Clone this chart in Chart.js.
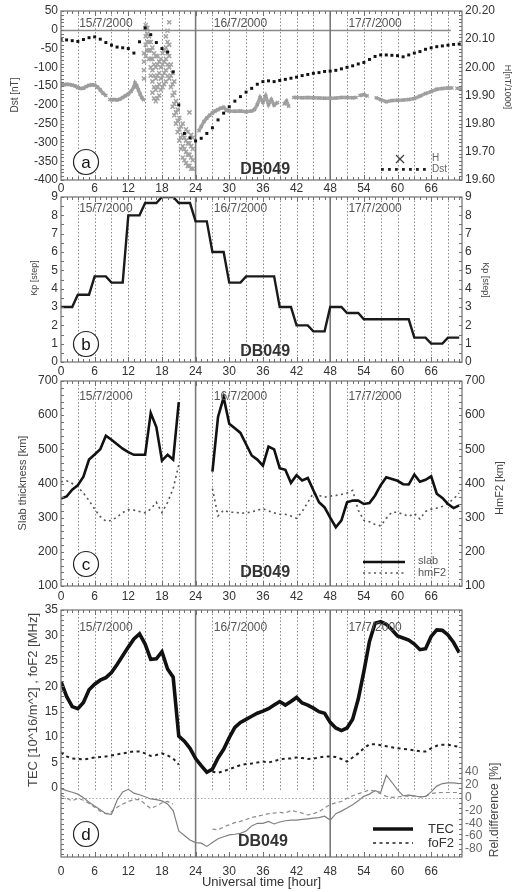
<!DOCTYPE html>
<html>
<head>
<meta charset="utf-8">
<script src="https://cdn.jsdelivr.net/npm/chart.js@4.4.1/dist/chart.umd.min.js"></script>
<style>
  body { margin: 0; background: #fff; width: 512px; height: 892px; position: relative; overflow: hidden; }
  canvas { position: absolute; left: 0; }
</style>
</head>
<body>
<canvas id="cA" width="512" height="194" style="top:0px;width:512px;height:194px"></canvas>
<canvas id="cB" width="512" height="192" style="top:184px;width:512px;height:192px"></canvas>
<canvas id="cC" width="512" height="232" style="top:369px;width:512px;height:232px"></canvas>
<canvas id="cD" width="512" height="296" style="top:596px;width:512px;height:296px"></canvas>
<script>
// hours of the three days, 15-17 July 2000
const hours = [0,1,2,3,4,5,6,7,8,9,10,11,12,13,14,15,16,17,18,19,20,21,22,23,
  24,25,26,27,28,29,30,31,32,33,34,35,36,37,38,39,40,41,42,43,44,45,46,47,
  48,49,50,51,52,53,54,55,56,57,58,59,60,61,62,63,64,65,66,67,68,69,70,71];
const hourTicks = [0,6,12,18,24,30,36,42,48,54,60,66];
const dayStarts = [24, 48];
const dayLabels = ['15/7/2000', '16/7/2000', '17/7/2000'];
const dayLabelHours = [8, 32, 56];
const X_MAX = 71.5;

// (a) Dst [nT], hourly
const dst = [-26,-27,-29,-31,-26,-21,-19,-25,-34,-41,-46,-48,-50,-62,-32,5,-13,-34,-50,-59,-112,-200,-276,-288,
  -296,-289,-276,-261,-240,-222,-205,-190,-178,-166,-156,-145,-138,-136,-138,-135,-132,-129,-126,-122,-119,-116,-114,-111,
  -110,-108,-104,-100,-96,-91,-87,-79,-71,-67,-67,-68,-69,-72,-67,-62,-58,-52,-48,-45,-43,-41,-39,-38];

// (a) H [nT/1000], quiet parts (null = gap in record)
const hBandTimes = [0,0.5,1,1.5,2,2.5,3,3.5,4,4.5,5,5.5,6,6.5,7,7.5,8,8.4,
  8.7,9,9.5,10,10.5,11,11.5,12,12.5,13,13.2,13.5,13.8,14.1,14.4,14.7,14.8,
  24.6,25,25.5,26,26.5,27,27.5,28,28.5,29,29.5,30,31,32,33,34,34.5,35,35.5,36,36.5,37,37.5,38,38.6,39,
  39.8,40.2,40.6,41,
  41.5,42,43,44,45,46,47,48,49,50,51,52,52.6,52.9,
  53.3,54,54.6,55.2,
  56.2,57,58,59,60,61,62,63,64,65,66,67,68,69,69.7,70.1,
  70.6,71.5];
const hBandValues = [19.937,19.938,19.940,19.939,19.937,19.934,19.928,19.925,19.926,19.932,19.936,19.938,19.937,19.930,19.920,19.908,19.900,null,
  19.886,19.885,19.886,19.884,19.887,19.893,19.899,19.905,19.915,19.930,19.944,19.935,19.920,19.905,19.893,19.885,null,
  19.775,19.790,19.808,19.820,19.830,19.838,19.845,19.850,19.855,19.858,19.848,19.845,19.844,19.845,19.842,19.845,19.850,19.868,19.893,19.876,19.898,19.868,19.885,19.866,19.875,null,
  19.870,19.880,19.862,null,
  19.893,19.893,19.892,19.893,19.892,19.891,19.890,19.890,19.891,19.893,19.893,19.892,19.893,null,
  19.900,19.903,19.898,null,
  19.892,19.885,19.878,19.882,19.883,19.884,19.886,19.889,19.898,19.907,19.914,19.922,19.925,19.927,19.927,null,
  19.926,19.922];

// (a) H during the storm: scattered samples
const stormTimes = [14.8,15.1,15.4,15.7,16.0,16.3,16.6,16.9,17.2,17.5,17.8,18.1,18.4,18.7,19.0,19.3,19.6,19.9,
  20.2,20.5,20.8,21.1,21.4,21.7,22.0,22.3,22.6,22.9,23.2,23.5];
const stormValues = [
  [19.96,19.99,20.02,20.05],[20.08,20.11,20.14,20.15,20.04],[20.09,20.12,20.14,20.06],[20.03,20.06,20.09,20.11],
  [20.00,20.03,20.06,20.09,19.97],[19.95,19.99,20.03,20.07,19.91],[19.89,19.93,19.97,20.01,20.05],[19.88,19.92,19.96,20.00,20.04],
  [19.89,19.93,19.97,20.01,20.04],[19.90,19.94,19.98,20.02],[19.92,19.96,20.00,20.03],[19.93,19.97,20.01,20.05],
  [19.94,19.98,20.02,20.06],[19.95,19.99,20.03,20.07,20.11],[19.97,20.01,20.05,20.09,20.13],[19.96,20.00,20.04,20.08,20.16],
  [19.93,19.97,20.01],[19.86,19.90,19.94,19.98],[19.83,19.87,19.91,19.95],[19.80,19.84,19.88],
  [19.77,19.81,19.85],[19.74,19.78,19.82],[19.71,19.75,19.79],[19.68,19.72,19.76,19.80],
  [19.67,19.71,19.75],[19.66,19.70,19.74,19.78],[19.65,19.69,19.73,19.77],[19.65,19.69,19.73,19.84],
  [19.64,19.68,19.72,19.76],[19.64,19.67,19.71,19.75]];

// (b) Kp, one value per 3-hour interval
const kp3h = [3,3.67,4.67,4.33,8,8.67,9,8.67, 7.67,6,4.33,4.67,4.67,3,2,1.67, 3,2.67,2.33,2.33,2.33,1.33,1,1.33];

// (c) slab thickness and hmF2 [km]
const slab = [356,362,382,395,420,470,485,500,540,528,515,502,492,484,484,484,606,565,467,484,470,638,null,null,
  null,null,null,435,595,652,575,562,548,515,482,470,452,508,500,445,440,402,424,409,416,380,345,330,
  300,272,292,345,350,350,340,343,365,395,418,413,408,398,397,426,405,411,421,370,358,340,328,336];
const hmF2 = [405,408,400,390,372,350,325,303,290,292,302,315,323,322,318,314,325,345,315,345,385,455,null,null,
  null,null,null,385,305,322,316,316,313,314,317,322,326,320,314,310,310,305,298,318,345,372,365,360,
  363,365,368,372,380,322,292,288,280,276,298,316,316,310,304,312,296,318,325,328,333,342,355,372];

// (d) TEC [10^16/m^2], foF2 [MHz], relative differences [%]
const tec = [20.9,18.0,16.0,15.6,16.8,19.3,20.4,21.2,21.7,22.7,24.3,26.0,27.7,29.3,30.3,28.3,25.3,25.4,26.8,23.4,21.8,10.2,9.2,7.8,
  5.8,4.4,3.1,3.7,5.9,7.6,9.9,11.9,12.9,13.5,14.1,14.7,15.1,15.6,16.3,17.0,16.3,17.0,17.8,16.7,16.3,15.7,15.0,14.7,
  12.9,11.8,11.3,11.8,13.5,17.5,22.9,28.8,32.4,32.7,32.2,31.1,29.9,29.5,29.1,28.3,27.2,27.4,29.8,31.1,31.0,30.1,28.6,26.6];
const foF2 = [7.0,6.2,5.8,5.7,5.6,5.8,6.0,6.1,6.2,6.4,6.6,6.8,7.0,7.2,7.2,6.8,6.3,6.5,6.8,6.4,5.8,4.6,null,null,
  null,null,null,3.2,3.0,3.3,3.7,4.1,4.5,4.7,4.8,5.0,5.2,5.0,5.3,5.6,5.8,5.8,6.0,5.9,5.7,5.8,6.0,6.2,
  6.2,6.1,5.7,5.2,6.0,6.8,7.8,8.6,8.6,8.4,8.2,8.0,7.8,7.7,7.6,7.4,7.2,7.2,7.8,8.3,8.5,8.5,8.3,8.1];
const tecRel = [14,11,8.5,5.5,0,-7,-13,-19,-25,-26,-4,9,13,7,4.5,1.5,-2,-3,-5,-10,-20,-52,-59,-66,
  -70,-71,-76,-70,-64,-61,-58,-57,-55.6,-52,-44,-40,-40,-37,-41,-38,-36,-35,-35,-34,-33,-32,-31,-29,
  -35,-25,-21,-16,-11,-5,2,5.5,11,8,35,24,12,3,4,3,1,2,9,18,22,23,23,22];
const foF2Rel = [4,-1,-5,-1,-4,-9,-15,-21,-25,-22,-15,-10,-6,-3,-3,-10,-17,-13,-8,-6,-10,null,null,null,
  null,null,null,-49,-50,-46,-42,-39,-37,-34,-31,-29,-27,-25,-24,-23,-24,-20,-22,-24,-27,-25,-22,-16,
  -11,-8,-6,-1,3,6,9,12,10,6,2,0.5,1,2.5,2.5,2.5,1.5,2,6.5,7.5,8,8,8,8];

// axis tick labels
const dstTicks = [-400,-350,-300,-250,-200,-150,-100,-50,0,50];
const hTicks = [19.60,19.65,19.70,19.75,19.80,19.85,19.90,19.95,20.00,20.05,20.10,20.15,20.20];
const kpTicks = [0,1,2,3,4,5,6,7,8,9];
const kmTicks = [100,200,300,400,500,600,700];
const tecTicks = [0,5,10,15,20,25,30,35];
const relTicks = [-80,-60,-40,-20,0,20,40];

const FONT = '"Liberation Sans", Arial, Helvetica, sans-serif';
Chart.defaults.font.family = FONT;
Chart.defaults.color = '#333';
Chart.defaults.animation = false;
Chart.defaults.responsive = false;
Chart.defaults.plugins.legend.display = false;
Chart.defaults.plugins.tooltip.enabled = false;
Chart.defaults.elements.line.tension = 0;
Chart.defaults.elements.point.radius = 0;

const pts = (xs, ys) => xs.map((x, i) => ({x: x, y: ys[i]}));

const kpPoints = [];
kp3h.forEach((v, i) => { for (let k = 0; k < 3; k++) kpPoints.push({x: 3 * i + k, y: v}); });
const stormPoints = [];
stormTimes.forEach((t, i) => stormValues[i].forEach(v => stormPoints.push({x: t, y: v})));

function xAxis(h, pad, title) {
  return {
    type: 'linear', min: 0, max: X_MAX,
    afterBuildTicks: s => { s.ticks = hourTicks.map(v => ({value: v})); },
    afterFit: s => { s.height = h; },
    grid: {display: false, drawTicks: false},
    border: {display: false},
    ticks: {padding: pad, font: {size: 12}, color: '#333', maxRotation: 0, autoSkip: false},
    title: title ? {display: true, text: title, font: {size: 13}, color: '#333', padding: {top: 0, bottom: 2}} : {display: false}
  };
}

function yAxis(pos, min, max, ticks, fmt, color) {
  return {
    type: 'linear', position: pos, min: min, max: max,
    afterBuildTicks: s => { s.ticks = ticks.map(v => ({value: v})); },
    afterFit: s => { s.width = pos === 'left' ? 61 : 50; },
    grid: {display: false, drawTicks: false},
    border: {display: false},
    ticks: {padding: 3, font: {size: 12}, color: color || '#333', callback: fmt || (v => String(v))}
  };
}

function seg(ctx, x1, y1, x2, y2) {
  ctx.beginPath(); ctx.moveTo(x1, y1); ctx.lineTo(x2, y2); ctx.stroke();
}

function vText(ctx, text, x, y, rot, size, color) {
  ctx.save();
  ctx.translate(x, y);
  ctx.rotate(rot * Math.PI / 180);
  ctx.font = size + 'px ' + FONT;
  ctx.fillStyle = color;
  ctx.textAlign = 'center';
  ctx.textBaseline = 'middle';
  ctx.fillText(text, 0, 0);
  ctx.restore();
}

function drawLegend(ctx, a, kind) {
  ctx.save();
  ctx.textAlign = 'left';
  ctx.textBaseline = 'middle';
  if (kind === 'a') {
    const cx = a.right - 62, cy = a.bottom - 21;
    ctx.strokeStyle = '#444'; ctx.lineWidth = 1.2;
    seg(ctx, cx - 4, cy - 4, cx + 4, cy + 4);
    seg(ctx, cx - 4, cy + 4, cx + 4, cy - 4);
    ctx.fillStyle = '#222';
    for (let i = 0; i < 7; i++) ctx.fillRect(a.right - 81 + i * 7, a.bottom - 12, 2.8, 2.8);
    ctx.font = '10px ' + FONT; ctx.fillStyle = '#666';
    ctx.fillText('H', a.right - 30, a.bottom - 22);
    ctx.fillText('Dst', a.right - 30, a.bottom - 11);
  } else if (kind === 'c') {
    ctx.strokeStyle = '#111'; ctx.lineWidth = 2.6;
    seg(ctx, a.right - 99, a.bottom - 24, a.right - 57, a.bottom - 24);
    ctx.strokeStyle = '#555'; ctx.lineWidth = 1.6; ctx.setLineDash([2, 3.5]);
    seg(ctx, a.right - 99, a.bottom - 13, a.right - 57, a.bottom - 13);
    ctx.setLineDash([]);
    ctx.font = '11px ' + FONT; ctx.fillStyle = '#555';
    ctx.fillText('slab', a.right - 44, a.bottom - 25);
    ctx.fillText('hmF2', a.right - 44, a.bottom - 13);
  } else if (kind === 'd') {
    ctx.strokeStyle = '#111'; ctx.lineWidth = 3.6;
    seg(ctx, a.right - 89, a.bottom - 28, a.right - 49, a.bottom - 28);
    ctx.strokeStyle = '#222'; ctx.lineWidth = 1.6; ctx.setLineDash([3, 3.5]);
    seg(ctx, a.right - 89, a.bottom - 14, a.right - 49, a.bottom - 14);
    ctx.setLineDash([]);
    ctx.font = '13px ' + FONT; ctx.fillStyle = '#333';
    ctx.fillText('TEC', a.right - 34, a.bottom - 28);
    ctx.fillText('foF2', a.right - 34, a.bottom - 14);
  }
  ctx.restore();
}

// grid, frame and the labels printed inside each panel
const decor = {
  id: 'decor',
  beforeDatasetsDraw(chart, args, o) {
    const {ctx, chartArea: a, scales} = chart;
    const x = scales.x;
    ctx.save();
    const yEnd = o.gridEnd == null ? a.bottom : scales.y.getPixelForValue(o.gridEnd);
    ctx.strokeStyle = '#8c8c8c'; ctx.lineWidth = 1; ctx.setLineDash([1.5, 2]);
    for (let h = 3; h < X_MAX; h += 3) {
      if (dayStarts.includes(h)) continue;
      const px = Math.round(x.getPixelForValue(h)) + 0.5;
      seg(ctx, px, a.top, px, yEnd);
    }
    if (o.zero) {
      const z = o.zero;
      const py = Math.round(scales[z.axis].getPixelForValue(z.value)) + 0.5;
      ctx.strokeStyle = z.color; ctx.lineWidth = z.width; ctx.setLineDash(z.dash);
      seg(ctx, a.left, py, z.to == null ? a.right : x.getPixelForValue(z.to), py);
    }
    ctx.setLineDash([]);
    ctx.strokeStyle = '#7a7a7a'; ctx.lineWidth = 1.6;
    dayStarts.forEach(h => {
      const px = x.getPixelForValue(h);
      seg(ctx, px, a.top, px, a.bottom);
    });
    ctx.restore();
  },
  afterDatasetsDraw(chart, args, o) {
    const {ctx, chartArea: a, scales} = chart;
    const x = scales.x, y = scales.y;
    ctx.save();
    // frame with inward minor ticks
    ctx.strokeStyle = '#707070'; ctx.lineWidth = 1.2;
    ctx.strokeRect(a.left, a.top, a.right - a.left, a.bottom - a.top);
    ctx.lineWidth = 1;
    for (let h = 1; h < X_MAX; h++) {
      const px = Math.round(x.getPixelForValue(h)) + 0.5;
      const len = h % 6 === 0 ? 5 : 3;
      seg(ctx, px, a.top, px, a.top + len);
      seg(ctx, px, a.bottom, px, a.bottom - len);
    }
    for (let v = Math.ceil(y.min / o.yMinor) * o.yMinor; v <= y.max; v += o.yMinor) {
      const py = Math.round(y.getPixelForValue(v)) + 0.5;
      seg(ctx, a.left, py, a.left + 3, py);
      seg(ctx, a.right, py, a.right - 3, py);
    }
    // day labels
    ctx.font = '12px ' + FONT; ctx.fillStyle = '#555';
    ctx.textAlign = 'center'; ctx.textBaseline = 'middle';
    dayLabels.forEach((t, i) => ctx.fillText(t, x.getPixelForValue(dayLabelHours[i]), a.top + o.dateY));
    // station name
    ctx.font = 'bold 16px ' + FONT; ctx.fillStyle = '#333';
    ctx.fillText('DB049', x.getPixelForValue(o.dbX), a.bottom - o.dbY);
    // circled panel letter
    const cx = x.getPixelForValue(4.46), cy = a.bottom - o.letterY;
    ctx.beginPath(); ctx.arc(cx, cy, 12.5, 0, Math.PI * 2);
    ctx.fillStyle = '#fff'; ctx.fill();
    ctx.strokeStyle = '#222'; ctx.lineWidth = 1.2; ctx.stroke();
    ctx.font = '17px ' + FONT; ctx.fillStyle = '#111';
    ctx.fillText(o.letter, cx, cy + 1);
    ctx.restore();
    if (o.legend) drawLegend(ctx, a, o.legend);
    o.titles.forEach(t => vText(ctx, t.t, t.x, t.y, t.rot, t.size, '#444'));
  }
};

// (a) Dst and H
new Chart(document.getElementById('cA'), {
  type: 'line',
  data: {datasets: [
    {label: 'Dst', data: pts(hours, dst), yAxisID: 'y', showLine: false, pointRadius: 2.1,
      pointStyle: 'rect', pointBackgroundColor: '#111', pointBorderWidth: 0},
    {label: 'H', data: pts(hBandTimes, hBandValues), yAxisID: 'y2', borderColor: '#a5a5a5', borderWidth: 3.5,
      pointStyle: 'crossRot', pointRadius: 2.2, pointBorderColor: '#9c9c9c', pointBorderWidth: 1.3, spanGaps: false},
    {label: 'H storm', data: stormPoints, yAxisID: 'y2', showLine: false, pointStyle: 'crossRot',
      pointRadius: 2.9, pointBorderColor: '#a3a3a3', pointBorderWidth: 1.5}
  ]},
  options: {
    layout: {padding: {top: 11, left: 0, right: 0, bottom: 0}},
    scales: {
      x: xAxis(14, 1),
      y: yAxis('left', -400, 50, dstTicks),
      y2: yAxis('right', 19.6, 20.2, hTicks, v => v.toFixed(2))
    },
    plugins: {decor: {dateY: 13, dbX: 36.4, dbY: 10, letter: 'a', letterY: 18, legend: 'a', yMinor: 10,
      zero: {axis: 'y', value: 0, to: 69.5, dash: [], color: '#8a8a8a', width: 1.5},
      titles: [{t: 'Dst [nT]', x: 15, y: 95, rot: -90, size: 10}, {t: 'H[nT/1000]', x: 507, y: 87, rot: 90, size: 9}]}}
  },
  plugins: [decor]
});

// (b) Kp
new Chart(document.getElementById('cB'), {
  type: 'line',
  data: {datasets: [
    {label: 'Kp', data: kpPoints, yAxisID: 'y', borderColor: '#1a1a1a', borderWidth: 2.4}
  ]},
  options: {
    layout: {padding: {top: 13, left: 0, right: 0, bottom: 0}},
    scales: {
      x: xAxis(14, 2),
      y: yAxis('left', 0, 9, kpTicks),
      y2: yAxis('right', 0, 9, kpTicks)
    },
    plugins: {decor: {dateY: 12, dbX: 36.4, dbY: 10, letter: 'b', letterY: 18, yMinor: 0.5,
      titles: [{t: 'Kp [step]', x: 35, y: 94, rot: -90, size: 9}, {t: 'Kp [step]', x: 485, y: 96, rot: 90, size: 9}]}}
  },
  plugins: [decor]
});

// (c) slab thickness and hmF2
new Chart(document.getElementById('cC'), {
  type: 'line',
  data: {datasets: [
    {label: 'slab', data: pts(hours, slab), yAxisID: 'y', borderColor: '#111', borderWidth: 2.6},
    {label: 'hmF2', data: pts(hours, hmF2), yAxisID: 'y2', borderColor: '#555', borderWidth: 1.6, borderDash: [2, 3.5]}
  ]},
  options: {
    layout: {padding: {top: 12, left: 0, right: 0, bottom: 0}},
    scales: {
      x: xAxis(15, 3),
      y: yAxis('left', 100, 700, kmTicks),
      y2: yAxis('right', 100, 700, kmTicks)
    },
    plugins: {decor: {dateY: 16, dbX: 36.4, dbY: 13, letter: 'c', letterY: 22, legend: 'c', yMinor: 20,
      titles: [{t: 'Slab thickness [km]', x: 23, y: 114, rot: -90, size: 11}, {t: 'HmF2 [km]', x: 500, y: 119, rot: -90, size: 11}]}}
  },
  plugins: [decor]
});

// (d) TEC, foF2 and relative differences
new Chart(document.getElementById('cD'), {
  type: 'line',
  data: {datasets: [
    {label: 'TEC', data: pts(hours, tec), yAxisID: 'y', borderColor: '#111', borderWidth: 3.6},
    {label: 'foF2', data: pts(hours, foF2), yAxisID: 'y', borderColor: '#222', borderWidth: 2, borderDash: [3, 3.5]},
    {label: 'TEC rel', data: pts(hours, tecRel), yAxisID: 'y2', borderColor: '#808080', borderWidth: 1.2},
    {label: 'foF2 rel', data: pts(hours, foF2Rel), yAxisID: 'y2', borderColor: '#8c8c8c', borderWidth: 1.2, borderDash: [4, 3]}
  ]},
  options: {
    layout: {padding: {top: 14, left: 0, right: 0, bottom: 0}},
    scales: {
      x: xAxis(35, 7, 'Universal time [hour]'),
      y: yAxis('left', -13.57, 35, tecTicks),
      y2: yAxis('right', -92.5, 292.5, relTicks, null, '#666')
    },
    plugins: {decor: {dateY: 18, dbX: 36, dbY: 15, letter: 'd', letterY: 23, legend: 'd', yMinor: 1, gridEnd: -0.4,
      zero: {axis: 'y2', value: 0, dash: [1.5, 2], color: '#aaa', width: 1},
      titles: [{t: 'TEC [10^16/m^2] , foF2 [MHz]', x: 33, y: 104, rot: -90, size: 13},
               {t: 'Rel.difference [%]', x: 495, y: 214, rot: -90, size: 12}]}}
  },
  plugins: [decor]
});
</script>
</body>
</html>
